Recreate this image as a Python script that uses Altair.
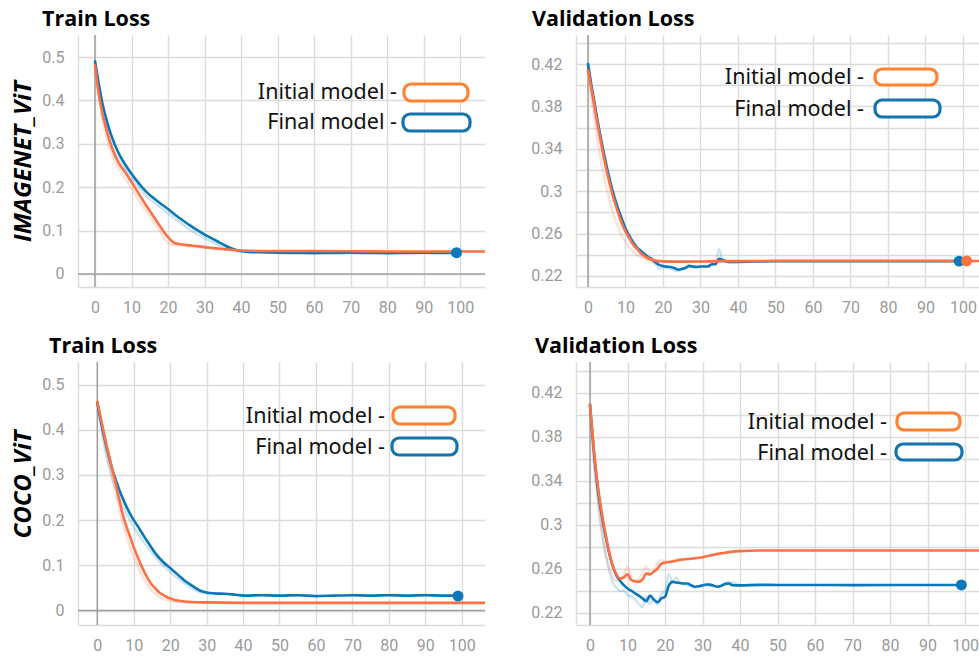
import altair as alt
import pandas as pd

ORANGE = "#ff7043"
BLUE = "#0a77b8"
LEG_ORANGE = "#ff8232"
LEG_BLUE = "#1574ad"
GRID = "#dcdcdc"
ZERO = "#a0a0a0"

# ---------------- IMAGENET_ViT : train loss (epoch, loss) ----------------
in_train_initial = [(0, .481), (1, .415), (2, .372), (3, .337), (4, .307), (5, .283), (6, .264),
                    (7, .249), (8, .238), (9, .225), (10, .212), (12, .185), (14, .158), (16, .133),
                    (18, .108), (20, .085), (21, .076), (22, .071), (24, .068), (26, .066), (28, .064),
                    (30, .062), (33, .059), (36, .057), (40, .054), (45, .053), (60, .053), (80, .052),
                    (100, .052), (110, .052)]
in_train_final = [(0, .490), (1, .440), (2, .395), (3, .360), (4, .331), (5, .307), (6, .287), (7, .270),
                  (8, .256), (10, .231), (12, .209), (14, .190), (16, .175), (18, .162), (20, .150),
                  (22, .136), (24, .124), (26, .112), (28, .101), (30, .091), (32, .082), (34, .073),
                  (36, .064), (38, .057), (40, .053), (42, .051), (45, .050), (50, .049), (55, .0485),
                  (60, .048), (65, .0485), (70, .049), (75, .0485), (80, .048), (85, .0485), (90, .049),
                  (95, .0485), (99, .049)]
in_train_initial_raw = [(0, .481), (2, .355), (4, .290), (6, .250), (8, .222), (10, .196), (12, .170),
                        (14, .145), (16, .120), (18, .095), (19.5, .075), (21, .068), (24, .065),
                        (30, .061), (40, .054)]
in_train_final_raw = [(0, .490), (2, .375), (4, .310), (6, .270), (8, .245), (10, .222), (12, .200),
                      (14, .180), (16, .166), (18, .153), (20, .140), (22, .127), (24, .114), (26, .102),
                      (28, .092), (30, .083), (32, .074), (34, .066), (36, .058), (38, .053), (40, .051)]
in_train_dots = [("final", 99, .049)]

# ---------------- IMAGENET_ViT : validation loss ----------------
in_val_initial = [(0, .414), (1, .395), (2, .375), (3, .355), (4, .336), (5, .319), (6, .304), (7, .291),
                  (8, .280), (9, .270), (10, .262), (11, .256), (12, .250), (13, .246), (14, .242),
                  (15, .239), (16, .237), (17, .2355), (18, .2345), (19, .234), (20, .2338), (25, .2335),
                  (30, .2336), (35, .234), (40, .234), (50, .2342), (100, .2342), (110, .2342)]
in_val_final = [(0, .420), (1, .398), (2, .378), (3, .358), (4, .340), (5, .323), (6, .308), (7, .295),
                (8, .284), (9, .274), (10, .265), (11, .258), (12, .252), (13, .247), (14, .244),
                (15, .241), (16, .238), (17, .236), (18, .233), (19, .2305), (20, .2295), (21, .2288),
                (22, .2285), (23, .2275), (24, .226), (25, .2265), (26, .2275), (27, .2295), (28, .2288),
                (29, .2285), (30, .229), (31, .229), (32, .229), (33, .231), (34, .2312), (35, .2363),
                (36, .235), (37, .2335), (38, .2332), (40, .2333), (45, .2337), (50, .234), (99, .234)]
in_val_initial_raw = [(0, .414), (1, .385), (2, .360), (3, .338), (4, .318), (5, .302), (6, .288),
                      (7, .276), (8, .266), (9, .258), (10, .252), (12, .243), (14, .238), (16, .235),
                      (18, .233), (20, .233), (25, .233), (30, .2335), (40, .234)]
in_val_final_raw = [(0, .420), (2, .370), (4, .335), (6, .305), (8, .280), (10, .262), (12, .249),
                    (14, .241), (16, .236), (18, .231), (19, .227), (20, .228), (22, .227), (24, .2245),
                    (26, .228), (28, .2285), (30, .229), (32, .2295), (34, .232), (35, .2455), (36, .234),
                    (38, .233), (40, .2335)]
in_val_dots = [("final", 99, .234), ("initial", 101, .2342)]

# ---------------- COCO_ViT : train loss ----------------
coco_train_initial = [(0, .462), (1, .424), (2, .386), (3, .350), (4, .316), (5, .282), (6, .246),
                      (7, .212), (8, .186), (9, .163), (10, .140), (11, .120), (12, .101), (13, .084),
                      (14, .069), (15, .057), (16, .048), (17, .040), (18, .035), (19, .030), (20, .027),
                      (21, .024), (22, .022), (24, .020), (26, .019), (30, .018), (40, .017), (60, .017),
                      (110, .017)]
coco_train_final = [(0, .460), (1, .418), (2, .380), (3, .346), (4, .316), (5, .291), (6, .268),
                    (7, .248), (8, .230), (9, .214), (10, .200), (11, .188), (12, .175), (13, .162),
                    (14, .150), (16, .126), (18, .108), (20, .094), (22, .080), (24, .066), (26, .055),
                    (28, .045), (30, .040), (32, .038), (35, .037), (38, .035), (41, .033), (45, .034),
                    (50, .033), (55, .034), (60, .032), (65, .033), (70, .034), (75, .033), (80, .034),
                    (85, .033), (90, .034), (95, .033), (99, .033)]
coco_train_initial_raw = [(0, .462), (2, .370), (4, .295), (6, .225), (8, .165), (10, .118), (12, .082),
                          (14, .054), (16, .036), (18, .026), (20, .021), (24, .019), (30, .018)]
coco_train_final_raw = [(0, .460), (2, .360), (4, .295), (6, .250), (8, .215), (10, .185), (12, .160),
                        (14, .138), (16, .118), (18, .100), (20, .085), (22, .072), (24, .060), (26, .049),
                        (28, .041), (30, .038), (34, .036)]
coco_train_dots = [("final", 99, .032)]

# ---------------- COCO_ViT : validation loss ----------------
coco_val_initial = [(0, .409), (1, .370), (2, .338), (3, .314), (4, .294), (5, .277), (6, .263), (7, .255),
                    (8, .251), (9, .252), (10, .2549), (11, .2497), (12, .2485), (13, .248), (14, .250),
                    (15, .2557), (16, .2548), (17, .2575), (18, .260), (19, .2645), (20, .2655),
                    (22, .2665), (24, .268), (26, .2688), (28, .2695), (30, .2705), (32, .272),
                    (34, .2735), (36, .2745), (38, .2755), (40, .276), (45, .2765), (50, .2765),
                    (110, .2765)]
coco_val_final = [(0, .409), (1, .368), (2, .335), (3, .311), (4, .292), (5, .276), (6, .263), (7, .254),
                  (8, .249), (9, .245), (10, .242), (11, .240), (12, .2376), (13, .2355), (14, .233),
                  (15, .2305), (16, .2355), (17, .232), (18, .2295), (19, .233), (20, .2345), (21, .2445),
                  (22, .248), (23, .2475), (24, .247), (25, .2465), (26, .2465), (27, .245), (28, .2436),
                  (29, .244), (30, .2448), (31, .2457), (32, .2455), (33, .2445), (34, .2436), (35, .2445),
                  (36, .2462), (37, .2466), (38, .245), (40, .2448), (45, .2453), (50, .2452), (60, .2452),
                  (70, .2451), (80, .2452), (90, .2452), (99, .2452)]
coco_val_initial_raw = [(0, .409), (1, .358), (2, .324), (3, .296), (4, .276), (5, .262), (6, .253),
                        (7, .249), (8, .250), (9, .254), (10, .262), (11, .252), (12, .248), (13, .250),
                        (14, .257), (15, .262), (16, .255), (17, .258), (18, .265), (19, .268), (20, .266),
                        (22, .267), (24, .269)]
coco_val_final_raw = [(0, .409), (1, .362), (2, .326), (3, .298), (4, .276), (5, .260), (6, .248),
                      (7, .243), (8, .240), (9, .240), (10, .236), (11, .235), (12, .232), (13, .228),
                      (14, .225), (15, .235), (16, .228), (17, .232), (18, .227), (19, .237), (20, .240),
                      (21, .255), (22, .248), (23, .252), (24, .247), (26, .245), (28, .243), (30, .245),
                      (35, .244), (37, .248), (40, .245)]
coco_val_dots = [("final", 99, .2452)]

LEGEND_LABELS = ["Initial model -", "Final model -"]
X_TICKS = list(range(0, 101, 10))


def frame(pairs):
    return pd.DataFrame({"epoch": [p[0] for p in pairs], "loss": [p[1] for p in pairs]})


def panel(initial, final, initial_raw, final_raw, dots, xdom, ydom, ygrid, label_expr,
          width, height, title, title_dx, ytitle, legend, zero_y, ytitle_y=None):
    xs = alt.Scale(domain=xdom, nice=False, zero=False)
    ys = alt.Scale(domain=ydom, nice=False, zero=False)
    x_enc = alt.X("epoch:Q", scale=xs,
                  axis=alt.Axis(values=X_TICKS, title=None, labelPadding=12))
    axis_kw = dict(values=ygrid, labelExpr=label_expr, labelPadding=14,
                   title=ytitle if ytitle else None, titlePadding=6,
                   titleFont="Open Sans", titleFontSize=24, titleFontWeight="bold",
                   titleFontStyle="italic", titleColor="#000000")
    if ytitle_y is not None:
        axis_kw["titleY"] = ytitle_y
    y_enc = alt.Y("loss:Q", scale=ys, axis=alt.Axis(**axis_kw))

    def line(pairs, color, opacity, sw):
        return alt.Chart(frame(pairs)).mark_line(
            color=color, opacity=opacity, strokeWidth=sw, clip=True,
            strokeJoin="round", strokeCap="round", interpolate="monotone"
        ).encode(x=x_enc, y=y_enc)

    zero_df = pd.DataFrame({"epoch": [0], "loss": [0]})
    layers = [
        alt.Chart(zero_df).mark_rule(color=ZERO, strokeWidth=1.5).encode(x=alt.X("epoch:Q", scale=xs))
    ]
    if zero_y:
        layers.append(alt.Chart(zero_df).mark_rule(color=ZERO, strokeWidth=1.5)
                      .encode(y=alt.Y("loss:Q", scale=ys)))
    layers += [
        line(final_raw, BLUE, 0.2, 2.5),
        line(initial_raw, ORANGE, 0.2, 2.5),
        line(final, BLUE, 1.0, 2.6),
        line(initial, ORANGE, 1.0, 2.6),
    ]
    dot_df = pd.DataFrame({"model": [d[0] for d in dots], "epoch": [d[1] for d in dots],
                           "loss": [d[2] for d in dots]})
    layers.append(alt.Chart(dot_df).mark_circle(size=120, opacity=1, clip=True).encode(
        x=x_enc, y=y_enc,
        color=alt.Color("model:N", scale=alt.Scale(domain=["final", "initial"], range=[BLUE, ORANGE]),
                        legend=None)))

    # in-plot key: label text followed by a rounded swatch
    one = pd.DataFrame({"k": [0]})
    text_x, rows = legend
    for label, color, base_y, rx1, rx2, ry1, ry2 in rows:
        layers.append(alt.Chart(one).mark_text(
            align="right", baseline="alphabetic", font="Noto Sans", fontSize=21.5, color="#111111"
        ).encode(x=alt.value(text_x), y=alt.value(base_y), text=alt.value(label)))
        layers.append(alt.Chart(one).mark_rect(
            fill="white", stroke=color, strokeWidth=3.2, cornerRadius=7
        ).encode(x=alt.value(rx1), x2=alt.value(rx2), y=alt.value(ry1), y2=alt.value(ry2)))

    return alt.layer(*layers).properties(
        width=width, height=height,
        title=alt.TitleParams(title, anchor="start", frame="group", dx=title_dx, offset=-13,
                              font="Open Sans", fontSize=21.5, fontWeight="bold", color="#000000",
                              baseline="alphabetic"),
    )


train_grid = [round(0.05 * i, 2) for i in range(0, 12)]
val_grid = [round(0.22 + 0.02 * i, 2) for i in range(0, 12)]
train_labels = "round(datum.value*100) % 10 == 0 ? format(datum.value, '.1~f') : ''"
val_labels = "round(datum.value*100) % 4 == 2 ? format(datum.value, '.2~f') : ''"

a = panel(in_train_initial, in_train_final, in_train_initial_raw, in_train_final_raw, in_train_dots,
          [-4.66, 106.8], [-0.03, 0.551], train_grid, train_labels, 407, 252,
          "Train Loss", -36, "IMAGENET_ViT",
          (319, [(LEGEND_LABELS[0], LEG_ORANGE, 64, 326, 390, 49, 66),
                 (LEGEND_LABELS[1], LEG_BLUE, 94, 325, 392, 79, 96)]), True)
b = panel(in_val_initial, in_val_final, in_val_initial_raw, in_val_final_raw, in_val_dots,
          [-3.2, 104.3], [0.2096, 0.4474], val_grid, val_labels, 403, 252,
          "Validation Loss", -44, None,
          (288, [(LEGEND_LABELS[0], LEG_ORANGE, 49, 299, 361, 34, 50),
                 (LEGEND_LABELS[1], LEG_BLUE, 81, 299, 364, 65, 82)]), False)
c = panel(coco_train_initial, coco_train_final, coco_train_initial_raw, coco_train_final_raw,
          coco_train_dots, [-5.3, 106.4], [-0.032, 0.55], train_grid, train_labels, 407, 263,
          "Train Loss", -29, "COCO_ViT",
          (307, [(LEGEND_LABELS[0], LEG_ORANGE, 61, 315, 377, 45, 62),
                 (LEGEND_LABELS[1], LEG_BLUE, 92, 314, 379, 76, 93)]), True, ytitle_y=122)
d = panel(coco_val_initial, coco_val_final, coco_val_initial_raw, coco_val_final_raw, coco_val_dots,
          [-3.73, 103.7], [0.2088, 0.448], val_grid, val_labels, 403, 263,
          "Validation Loss", -41, None,
          (311, [(LEGEND_LABELS[0], LEG_ORANGE, 67, 321, 384, 51, 68),
                 (LEGEND_LABELS[1], LEG_BLUE, 98, 320, 386, 82, 98)]), False)

chart = alt.concat(a, b, c, d, columns=2, spacing={"row": 75, "column": 91}, bounds="flush").properties(
    padding={"left": 11, "top": 8, "right": 0, "bottom": 0},
    background="white",
).configure_view(stroke=None).configure_axis(
    labelFont="Roboto", labelFontSize=16, labelColor="#9a9a9a",
    gridColor=GRID, gridWidth=1.4, domainColor=GRID, domainWidth=1.4,
    ticks=False, labelOverlap=False,
)

chart.save("out.html", embed_options={"renderer": "svg", "actions": False})
